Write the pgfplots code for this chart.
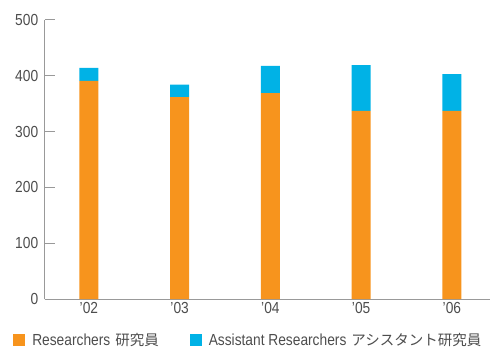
\documentclass[border=0pt]{standalone}
\usepackage{pgfplots}
\pgfplotsset{compat=1.18}
\usepackage{fontspec}
\setmainfont{Liberation Sans}[FakeStretch=0.86]
\newfontfamily\cjk{Noto Sans CJK JP}
\definecolor{resOrange}{HTML}{F7941D}
\definecolor{asstCyan}{HTML}{00B2E6}
\definecolor{txtgray}{HTML}{4D4D4D}
\definecolor{axgray}{HTML}{999999}
\begin{document}
\begin{tikzpicture}
\useasboundingbox (-44.7bp,-49bp) rectangle (445.3bp,299bp);
\begin{axis}[
  scale only axis, width=445.3bp, height=279bp,
  ybar stacked, bar width=19bp,
  xmin=-0.487, xmax=4.42, ymin=0, ymax=500,
  axis x line=bottom, axis y line=left,
  axis line style={draw=axgray, line width=1bp, -},
  xtick={0,...,4}, xticklabels={’02,’03,’04,’05,’06},
  x tick style={draw=none},
  ytick={0,100,...,500},
  tick align=inside, major tick length=10bp,
  y tick style={draw=axgray, line width=1bp},
  tick label style={font=\fontsize{16bp}{18bp}\selectfont, text=txtgray},
  /pgf/number format/assume math mode=true,
  yticklabel style={xshift=-3bp},
  legend columns=2,
  legend style={at={(-0.071,-0.116)}, anchor=north west, draw=none, fill=none,
    font=\fontsize{16bp}{18bp}\selectfont, text=txtgray, inner sep=0pt,
    /tikz/every even column/.append style={column sep=29bp}},
]
\addplot[fill=resOrange, draw=none, legend image code/.code={\fill[resOrange] (0bp,-6bp) rectangle (12bp,6bp); \path (17bp,0bp);}]
  coordinates {(0,391) (1,362) (2,369) (3,337) (4,337)};
\addplot[fill=asstCyan, draw=none, legend image code/.code={\fill[asstCyan] (0bp,-6bp) rectangle (12bp,6bp); \path (17bp,0bp);}]
  coordinates {(0,23) (1,22) (2,49) (3,82) (4,66)};
\legend{Researchers\hspace{5bp}{\cjk\fontsize{14.5bp}{18bp}\selectfont 研究員}, Assistant Researchers\hspace{5bp}{\cjk\fontsize{14.5bp}{18bp}\selectfont アシスタント研究員}}
\end{axis}
\end{tikzpicture}
\end{document}
